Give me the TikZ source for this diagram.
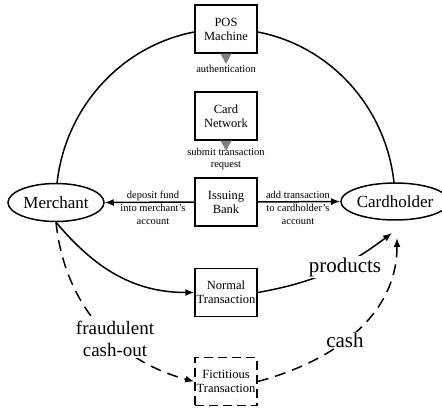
\documentclass[tikz,border=0pt]{standalone}
\usepackage{fontspec}
\setmainfont{Liberation Serif}
\usetikzlibrary{arrows.meta,shapes.geometric,backgrounds}
\begin{document}
\begin{tikzpicture}[x=1pt,y=1pt,
  box/.style={draw, line width=1.5pt, fill=white, minimum width=62pt, minimum height=48pt,
    inner sep=0pt, align=center, font=\fontsize{12.5}{14}\selectfont},
  dbox/.style={box, dash pattern=on 9pt off 5pt},
  oval/.style={ellipse, draw, line width=1.5pt, fill=white, inner sep=0pt,
    font=\fontsize{17}{20}\selectfont},
  small/.style={align=center, font=\fontsize{10.5}{12.5}\selectfont, inner sep=1pt},
  sidelabel/.style={align=center, font=\fontsize{10.5}{13}\selectfont, inner sep=1pt},
  big/.style={align=center, fill=white, inner sep=1pt},
  link/.style={line width=1.5pt},
  tip/.style={-{Latex[length=9pt,width=7pt]}},
  dsh/.style={dash pattern=on 11pt off 7pt},
  tri/.style={fill=black!50}
]
\useasboundingbox (0,0) rectangle (442,-414);

% main nodes
\node[box] (pos) at (226,-29) {POS\\Machine};
\node[box] (net) at (226,-116) {Card\\Network};
\node[box] (bank) at (226,-202) {Issuing\\Bank};
\node[box] (normal) at (226,-292.5) {Normal\\Transaction};
\node[dbox] (fict) at (226,-381.5) {Fictitious\\Transaction};
\node[oval, minimum width=96pt, minimum height=38pt] (merchant) at (56,-202.5) {Merchant};
\node[oval, minimum width=92pt, minimum height=37pt] (card) at (395,-201.5) {Cardholder};

% big circle arcs
\begin{scope}[on background layer]
\draw[link] (merchant.center) to[out=90,in=180] (pos.center);
\draw[link] (pos.center) to[out=0,in=90] (card.center);
\end{scope}

% gray triangles
\fill[tri] ([xshift=-5.5pt]pos.south) -- ([xshift=5.5pt]pos.south) -- ([yshift=-10pt]pos.south) -- cycle;
\fill[tri] ([xshift=-5.5pt]net.south) -- ([xshift=5.5pt]net.south) -- ([yshift=-10pt]net.south) -- cycle;

% small labels
\node[small] (auth) at (226,-69) {authentication};
\node[small] (submit) at (226,-159) {submit transaction\\request};
\node[sidelabel] (dep) at (153,-208) {deposit fund\\into merchant's\\account};
\node[sidelabel] (add) at (298,-208) {add transaction\\to cardholder's\\account};

% horizontal arrows
\draw[link,tip] (bank.west) -- (merchant.east);
\draw[link,tip] (bank.east) -- (card.west);

% lower curves
\coordinate (pin1) at (392,-233);
\coordinate (pin2) at (397,-238);
\draw[link,tip] (merchant.south) to[out=-50,in=180] (normal.west);
\draw[link,tip,dsh] (merchant.south) to[out=-84,in=165] (fict.west);
\draw[link,tip] (normal.east) to[out=10,in=-143] (pin1);
\draw[link,tip,dsh] (fict.east) to[out=15,in=-90] (pin2);

% big labels
\node[big, font=\fontsize{19}{22}\selectfont] (fraud) at (115,-339) {fraudulent\\cash-out};
\node[big, font=\fontsize{21}{24}\selectfont] (prod) at (345,-267) {products};
\node[big, font=\fontsize{21}{24}\selectfont] (cashl) at (345,-340) {cash};
\end{tikzpicture}
\end{document}
